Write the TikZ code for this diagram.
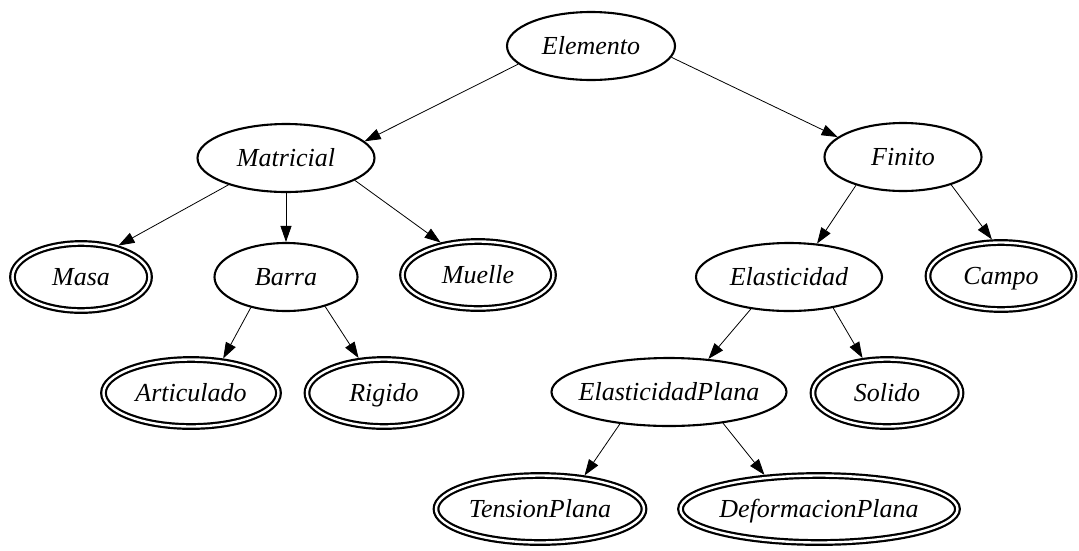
\documentclass[tikz,border=0pt]{standalone}
\usepackage{fontspec}
\setmainfont{Liberation Serif}
\usetikzlibrary{arrows.meta,shapes.geometric}
\begin{document}
\begin{tikzpicture}[x=1pt,y=-1pt,
  base/.style={ellipse, inner sep=0pt, text height=17.2pt, text depth=0pt,
               font=\fontsize{26pt}{30pt}\selectfont\itshape},
  single/.style={base, draw, line width=2.1pt, outer sep=1.05pt},
  dbl/.style={base, draw, line width=2.2pt, double, double distance=2.4pt, outer sep=3.4pt},
  edge/.style={line width=0.8pt, -{Triangle[length=16pt,width=11pt]}}
]
\useasboundingbox[fill=white] (0,0) rectangle (1079,550);

% level 0
\node[single, minimum width=168pt, minimum height=68pt] (elemento) at (591,46) {\makebox[0pt]{Elemento}};
% level 1
\node[single, minimum width=177pt, minimum height=68pt] (matricial) at (286,158) {\makebox[0pt]{Matricial}};
\node[single, minimum width=157pt, minimum height=68pt] (finito) at (903,157) {\makebox[0pt]{Finito}};
% level 2
\node[dbl, minimum width=137pt, minimum height=67pt] (masa) at (81,277) {\makebox[0pt]{Masa}};
\node[single, minimum width=143pt, minimum height=68pt] (barra) at (286,277) {\makebox[0pt]{Barra}};
\node[dbl, minimum width=151pt, minimum height=67pt] (muelle) at (478,275) {\makebox[0pt]{Muelle}};
\node[single, minimum width=186pt, minimum height=68pt] (elasticidad) at (789,277) {\makebox[0pt]{Elasticidad}};
\node[dbl, minimum width=146pt, minimum height=67pt] (campo) at (1001,276) {\makebox[0pt]{Campo}};
% level 3
\node[dbl, minimum width=175pt, minimum height=67pt] (articulado) at (191,393) {\makebox[0pt]{Articulado}};
\node[dbl, minimum width=154pt, minimum height=67pt] (rigido) at (384,393) {\makebox[0pt]{Rigido}};
\node[single, minimum width=235pt, minimum height=68pt] (ep) at (669,392) {\makebox[0pt]{ElasticidadPlana}};
\node[dbl, minimum width=148pt, minimum height=67pt] (solido) at (887,393) {\makebox[0pt]{Solido}};
% level 4
\node[dbl, minimum width=208pt, minimum height=67pt] (tp) at (540,509) {\makebox[0pt]{TensionPlana}};
\node[dbl, minimum width=277pt, minimum height=67pt] (dp) at (819,509) {\makebox[0pt]{DeformacionPlana}};

% edges
\draw[edge] (elemento.194) -- (matricial.12);
\draw[edge] (elemento.352) -- (finito.163);
\draw[edge] (matricial.205) -- (masa.40);
\draw[edge] (matricial) -- (barra);
\draw[edge] (matricial.-18) -- (muelle.139);
\draw[edge] (finito.211) -- (elasticidad.50);
\draw[edge] (finito.330) -- (campo.104);
\draw[edge] (barra.221) -- (articulado.47);
\draw[edge] (barra.323) -- (rigido.126);
\draw[edge] (elasticidad.220) -- (ep.40);
\draw[edge] (elasticidad.325) -- (solido.125);
\draw[edge] (ep.213) -- (tp.37);
\draw[edge] (ep.330) -- (dp.148);
\end{tikzpicture}
\end{document}
